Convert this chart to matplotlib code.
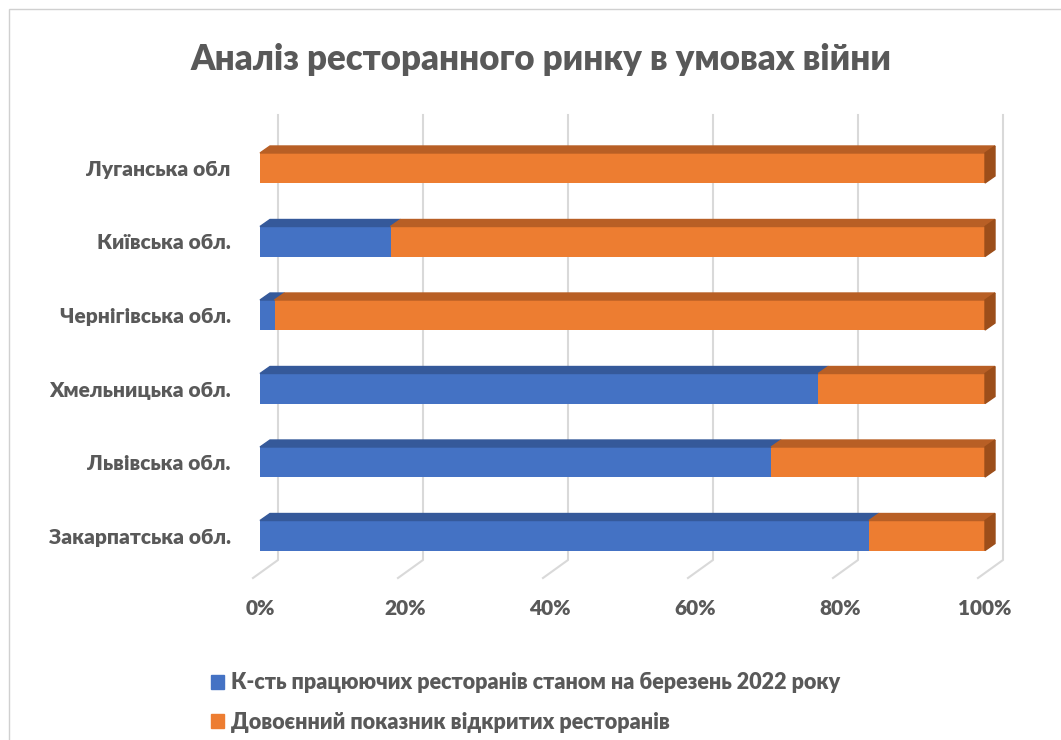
import numpy as np
import matplotlib.pyplot as plt
from matplotlib.patches import Polygon, Rectangle, Patch

plt.rcParams['font.family'] = ['Lato', 'Noto Sans', 'DejaVu Sans']

# Дані (частки від довоєнного показника)
oblasti = ['Закарпатська обл.', 'Львівська обл.', 'Хмельницька обл.',
           'Чернігівська обл.', 'Київська обл.', 'Луганська обл']
pratsiuiut = [0.84, 0.705, 0.77, 0.02, 0.18, 0.0]
dovoienni = [1.0 - v for v in pratsiuiut]
serii = ['К-сть працюючих ресторанів станом на березень 2022 року',
         'Довоєнний показник відкритих ресторанів']
tyky = [0, 0.2, 0.4, 0.6, 0.8, 1.0]
tyky_pidpysy = ['0%', '20%', '40%', '60%', '80%', '100%']

SYNII = '#4472C4'
ORANZH = '#ED7D31'
SYNII_VERH = '#35599A'
ORANZH_VERH = '#B85F25'
ORANZH_BIK = '#9C4E1A'
SIRYI = '#595959'
SITKA = '#D9D9D9'
VAGA = 'heavy'

W, H = 1061, 740
fig = plt.figure(figsize=(W / 100, H / 100), dpi=100)
fig.patches.append(Rectangle((9 / W, -0.1), 1.2, 1 - 9 / H + 0.1, transform=fig.transFigure,
                             fill=False, edgecolor='#D0D0D0', lw=1))

# осі: 0% -> 260px, 100% -> 985px
ax = fig.add_axes([260 / W, 1 - 578 / H, 725 / W, 463 / H])
px_x = 1 / 725          # одиниць даних на піксель по x
px_y = 1 / 73.5         # одиниць даних на піксель по y
ax.set_xlim(0, 1)
ax.set_ylim(-0.578, 5.721)

y = np.arange(len(oblasti))
h = 30 * px_y
dx, dy = 10 * px_x, 7 * px_y

# сітка (задня стінка + підлога)
for t in tyky:
    xb = t + 18 * px_x
    xf = t - 7 * px_x
    ax.plot([xb, xb, xf], [5.721, -0.578 + 18 * px_y, -0.578], color=SITKA, lw=1.5,
            clip_on=False, zorder=1)

# передні грані
ax.barh(y, pratsiuiut, height=h, color=SYNII, zorder=3)
ax.barh(y, dovoienni, left=pratsiuiut, height=h, color=ORANZH, zorder=3)

# верхні та бічні грані
for yi, a in zip(y, pratsiuiut):
    top = yi + h / 2
    if a > 0:
        ax.add_patch(Polygon([(0, top), (a, top), (a + dx, top + dy), (dx, top + dy)],
                             closed=True, color=SYNII_VERH, zorder=3, clip_on=False))
    ax.add_patch(Polygon([(a, top), (1, top), (1 + dx, top + dy), (a + dx, top + dy)],
                         closed=True, color=ORANZH_VERH, zorder=3, clip_on=False))
    ax.add_patch(Polygon([(1, top), (1 + dx, top + dy), (1 + dx, top + dy - h), (1, top - h)],
                         closed=True, color=ORANZH_BIK, zorder=3, clip_on=False))

for s in ax.spines.values():
    s.set_visible(False)
ax.set_xticks(tyky)
ax.set_xticklabels(tyky_pidpysy, fontsize=15, fontweight=VAGA, color=SIRYI)
ax.set_yticks(y)
ax.set_yticklabels(oblasti, fontsize=15, fontweight=VAGA, color=SIRYI)
ax.tick_params(length=0)
ax.tick_params(axis='x', pad=15)
ax.tick_params(axis='y', pad=21)

fig.text(541 / W, 1 - 60 / H, 'Аналіз ресторанного ринку в умовах війни',
         ha='center', va='center', fontsize=25, fontweight=VAGA, color=SIRYI)

ruchky = [Patch(color=SYNII), Patch(color=ORANZH)]
fig.legend(ruchky, serii, loc='upper left', bbox_to_anchor=(192 / W, 1 - 653 / H),
           frameon=False, handlelength=0.6, handleheight=0.6, handletextpad=0.3,
           labelspacing=0.85, prop={'size': 15.5, 'weight': VAGA}, labelcolor=SIRYI)

fig.savefig('out.png', dpi=100)
